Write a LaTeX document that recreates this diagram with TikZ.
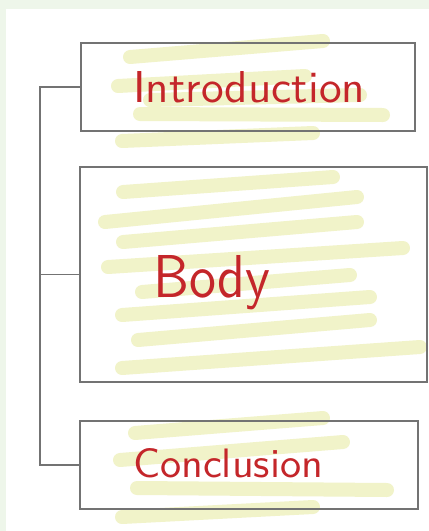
\documentclass[tikz,border=0pt]{standalone}
\usepackage{fontspec}
\usepackage{graphicx}
\definecolor{bggreen}{HTML}{EEF6EA}
\definecolor{hlyellow}{HTML}{F1F3C9}
\definecolor{boxgray}{HTML}{737373}
\definecolor{inkred}{HTML}{C4262A}
\begin{document}
\begin{tikzpicture}[x=1pt,y=-1pt,
  hl/.style={draw=hlyellow,line width=14pt,line cap=round},
  boxnode/.style={draw=boxgray,line width=1.5pt,inner sep=0pt},
  link/.style={draw=boxgray,line width=1.3pt},
  lbl/.style={text=inkred,font=\sffamily,anchor=base west,inner sep=0pt}]
\useasboundingbox (0,0) rectangle (429,531);
\fill[bggreen] (0,0) rectangle (429,531);
\fill[white] (6,9) rectangle (429,531);
% highlighter strokes: Introduction
\draw[hl] (130,57) -- (323,41);
\draw[hl] (118,86) -- (305,76);
\draw[hl] (150,100) -- (360,95);
\draw[hl] (140,114) -- (383,115);
\draw[hl] (122,141) -- (313,133);
% highlighter strokes: Body
\draw[hl] (123,192) -- (333,177);
\draw[hl] (105,222) -- (357,197);
\draw[hl] (123,242) -- (357,222);
\draw[hl] (108,267) -- (403,248);
\draw[hl] (142,292) -- (350,275);
\draw[hl] (122,315) -- (370,297);
\draw[hl] (138,340) -- (370,320);
\draw[hl] (122,368) -- (420,347);
% highlighter strokes: Conclusion
\draw[hl] (135,433) -- (323,418);
\draw[hl] (120,460) -- (343,442);
\draw[hl] (137,488) -- (387,490);
\draw[hl] (122,517) -- (313,507);
% boxes
\node[boxnode,minimum width=334pt,minimum height=88pt] (intro) at (248,87) {};
\node[boxnode,minimum width=347pt,minimum height=215pt] (body) at (253.5,274.5) {};
\node[boxnode,minimum width=338pt,minimum height=88pt] (concl) at (249,465) {};
% bracket
\coordinate (spine) at (40,0);
\draw[link] (intro.west) -- (intro.west -| spine) -- (concl.west -| spine) -- (concl.west);
\draw[link] (body.west) -- (body.west -| spine);
% labels
\node[lbl] (tintro) at (133,102) {\resizebox{232pt}{31pt}{Introduction}};
\node[lbl] (tbody) at (153,297) {\resizebox{117pt}{42pt}{Body}};
\node[lbl] (tconcl) at (133,477) {\resizebox{190pt}{29pt}{Conclusion}};
\end{tikzpicture}
\end{document}
